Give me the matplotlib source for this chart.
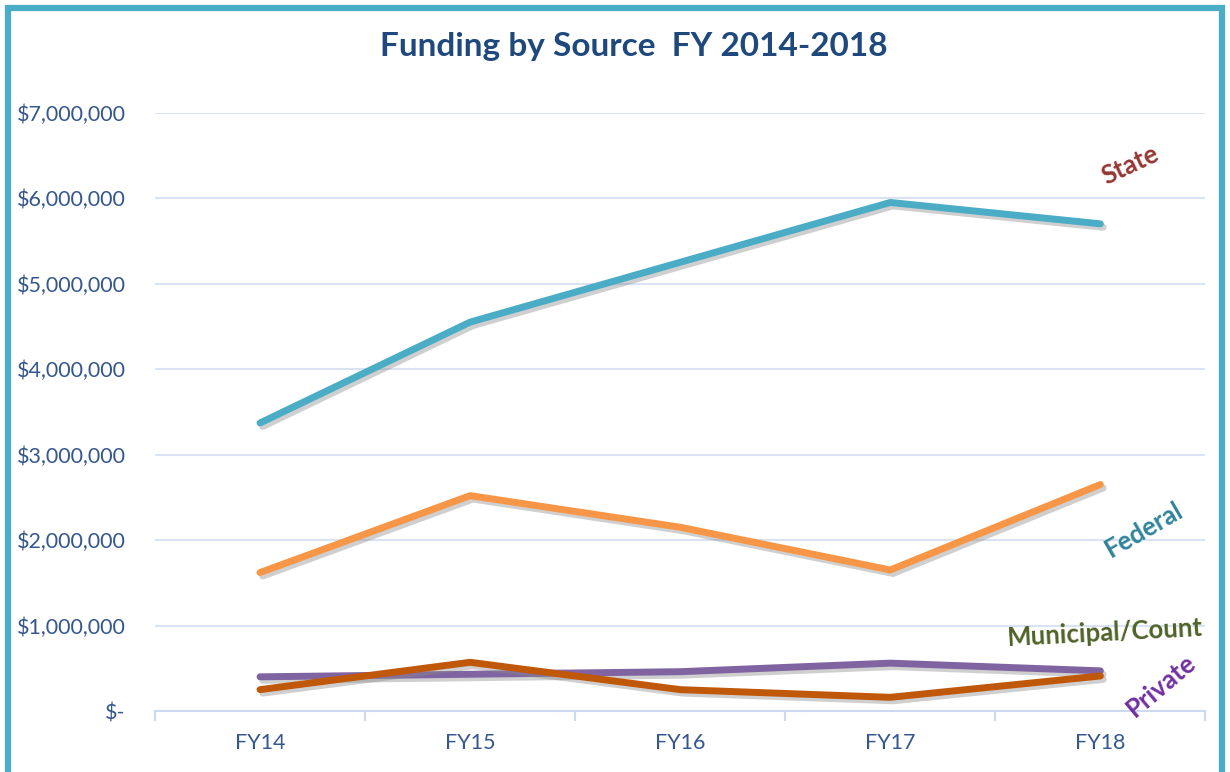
import matplotlib
matplotlib.use('Agg')
import matplotlib.pyplot as plt
import matplotlib.patheffects as pe
from matplotlib.patches import Rectangle
from matplotlib.ticker import FuncFormatter

years = ['FY14', 'FY15', 'FY16', 'FY17', 'FY18']
state = [3370000, 4550000, 5250000, 5950000, 5700000]
federal = [1620000, 2520000, 2150000, 1650000, 2650000]
private = [400000, 430000, 460000, 560000, 470000]
municipal = [250000, 570000, 250000, 160000, 410000]

plt.rcParams['font.family'] = ['Lato', 'DejaVu Sans']

fig = plt.figure(figsize=(12.3, 7.72), dpi=100)
ax = fig.add_axes([0.126, 0.079, 0.854, 0.775])

shadow = [pe.SimpleLineShadow(offset=(2, -2.5), alpha=0.4, shadow_color='#888888'), pe.Normal()]
x = range(len(years))
ax.plot(x, state, color='#4BACC6', lw=5, solid_capstyle='round', path_effects=shadow, zorder=3)
ax.plot(x, federal, color='#F79646', lw=5, solid_capstyle='round', path_effects=shadow, zorder=3)
ax.plot(x, private, color='#8064A2', lw=5, solid_capstyle='round', path_effects=shadow, zorder=3)
ax.plot(x, municipal, color='#C0580A', lw=5, solid_capstyle='round', path_effects=shadow, zorder=4)

ax.set_xlim(-0.5, 4.5)
ax.set_ylim(0, 7000000)
ax.set_yticks(range(0, 7000001, 1000000))
ax.yaxis.set_major_formatter(FuncFormatter(lambda v, p: '$-' if v == 0 else '${:,.0f}'.format(v)))
ax.grid(axis='y', color='#DAE3F3', lw=1.5)
ax.set_axisbelow(True)
for s in ['top', 'right', 'left']:
    ax.spines[s].set_visible(False)
ax.spines['bottom'].set_color('#CCD9EE')
ax.spines['bottom'].set_linewidth(1.5)
ax.tick_params(axis='y', length=0, pad=21, labelsize=15.5, labelcolor='#35578F')
ax.set_xticks(list(x))
ax.set_xticklabels(years)
ax.tick_params(axis='x', which='major', length=0, pad=16, labelsize=15.5, labelcolor='#35578F')
ax.set_xticks([i - 0.5 for i in range(len(years) + 1)], minor=True)
ax.tick_params(axis='x', which='minor', length=7, width=1.5, color='#CCD9EE')

ax.text(4.14, 6390000, 'State', color='#943634', fontsize=18.5, fontweight='bold', rotation=25, ha='center', va='center')
ax.text(4.21, 2120000, 'Federal', color='#31849B', fontsize=18.5, fontweight='bold', rotation=30, ha='center', va='center')
ax.text(4.02, 910000, 'Municipal/Count', color='#4F6228', fontsize=18.5, fontweight='bold', rotation=3, ha='center', va='center', clip_on=False)
ax.text(4.29, 300000, 'Private', color='#7030A0', fontsize=18.5, fontweight='bold', rotation=40, ha='center', va='center', clip_on=False)

fig.text(0.515, 0.94, 'Funding by Source  FY 2014-2018', color='#1F497D', fontsize=24, fontweight='bold', ha='center', va='center')

fig.patches.append(Rectangle((0.0065, -0.05), 0.987, 1.04, transform=fig.transFigure, fill=False, edgecolor='#4BACC6', lw=4.5, zorder=10))

fig.savefig('out.png', dpi=100)
